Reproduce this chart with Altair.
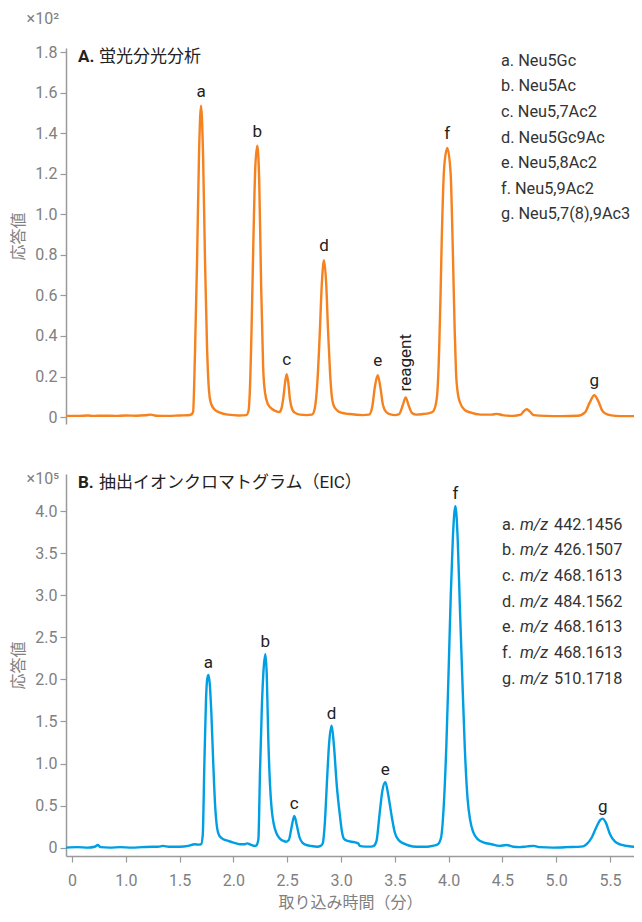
import altair as alt
import pandas as pd

# ---------------- data ----------------
# Panel A: fluorescence trace (response x10^2)
time_a = [0.444, 0.55, 0.65, 0.70, 0.80, 0.90, 1.00, 1.10, 1.18, 1.23, 1.28, 1.40, 1.50, 1.58,
          1.606, 1.625, 1.643, 1.662, 1.680, 1.699, 1.718, 1.736, 1.755, 1.773, 1.790, 1.82, 1.875, 1.95, 2.05, 2.12,
          2.14, 2.152, 2.168, 2.186, 2.204, 2.222, 2.240, 2.258, 2.276, 2.294, 2.32, 2.36, 2.40, 2.425,
          2.445, 2.465, 2.48, 2.495, 2.51, 2.525, 2.545, 2.57, 2.62, 2.68, 2.73,
          2.755, 2.78, 2.80, 2.822, 2.842, 2.862, 2.88, 2.898, 2.915, 2.93, 2.96, 3.00, 3.08, 3.20,
          3.26, 3.29, 3.315, 3.341, 3.365, 3.39, 3.42, 3.46, 3.50,
          3.54, 3.575, 3.601, 3.627, 3.66, 3.70, 3.76, 3.82,
          3.85, 3.875, 3.895, 3.912, 3.925, 3.936, 3.96, 3.988, 4.019, 4.032, 4.044, 4.057, 4.069, 4.085, 4.106,
          4.15, 4.20, 4.30, 4.40, 4.447, 4.50, 4.60, 4.67, 4.70, 4.725, 4.75, 4.79, 4.90, 5.05, 5.20,
          5.27, 5.31, 5.354, 5.39, 5.43, 5.48, 5.55, 5.65, 5.797]
resp_a = [0.006, 0.006, 0.008, 0.006, 0.007, 0.006, 0.008, 0.007, 0.009, 0.012, 0.007, 0.006, 0.008, 0.009,
          0.012, 0.025, 0.32, 0.77, 1.29, 1.535, 1.29, 0.77, 0.34, 0.13, 0.07, 0.04, 0.022, 0.012, 0.008, 0.01,
          0.03, 0.12, 0.42, 0.88, 1.24, 1.338, 1.16, 0.64, 0.25, 0.12, 0.065, 0.04, 0.028, 0.025,
          0.04, 0.10, 0.17, 0.211, 0.17, 0.09, 0.04, 0.022, 0.012, 0.01, 0.012,
          0.04, 0.17, 0.38, 0.66, 0.774, 0.66, 0.42, 0.22, 0.10, 0.06, 0.035, 0.022, 0.015, 0.01,
          0.012, 0.05, 0.15, 0.207, 0.15, 0.06, 0.025, 0.013, 0.01,
          0.015, 0.06, 0.097, 0.06, 0.02, 0.012, 0.015, 0.02,
          0.025, 0.05, 0.12, 0.33, 0.6, 0.87, 1.24, 1.327, 1.20, 0.98, 0.71, 0.42, 0.22, 0.12, 0.072,
          0.035, 0.023, 0.012, 0.012, 0.016, 0.01, 0.006, 0.012, 0.03, 0.039, 0.03, 0.01, 0.006, 0.005, 0.007,
          0.025, 0.07, 0.108, 0.08, 0.03, 0.012, 0.006, 0.005, 0.005]

# Panel B: extracted ion chromatogram (response x10^5)
time_b = [0.444, 0.55, 0.65, 0.71, 0.739, 0.765, 0.85, 0.95, 1.05, 1.15, 1.25, 1.30, 1.346, 1.40, 1.50, 1.58, 1.64, 1.68,
          1.70, 1.715, 1.73, 1.745, 1.756, 1.767, 1.78, 1.795, 1.813, 1.83, 1.85, 1.87, 1.906, 1.95, 2.00, 2.06, 2.10, 2.13, 2.16, 2.20,
          2.216, 2.232, 2.247, 2.265, 2.282, 2.297, 2.31, 2.324, 2.34, 2.356, 2.375, 2.40, 2.43, 2.464, 2.49,
          2.515, 2.54, 2.566, 2.59, 2.615, 2.64, 2.67, 2.72, 2.78,
          2.81, 2.83, 2.85, 2.87, 2.89, 2.913, 2.935, 2.96, 2.99, 3.01, 3.03, 3.06, 3.10, 3.16, 3.175, 3.22, 3.28,
          3.305, 3.33, 3.36, 3.385, 3.412, 3.44, 3.47, 3.50, 3.535, 3.58, 3.63, 3.70, 3.80, 3.85,
          3.90, 3.93, 3.955, 3.98, 4.00, 4.02, 4.04, 4.063, 4.085, 4.105, 4.125, 4.15, 4.175, 4.20, 4.23, 4.27, 4.33, 4.40, 4.47,
          4.54, 4.60, 4.66, 4.73, 4.79, 4.85, 4.97, 5.10, 5.25,
          5.283, 5.33, 5.376, 5.41, 5.432, 5.46, 5.50, 5.547, 5.60, 5.655, 5.72, 5.797]
resp_b = [0.0, 0.005, 0.0, 0.01, 0.03, 0.005, 0.0, 0.005, 0.0, 0.005, 0.01, 0.01, 0.02, 0.01, 0.01, 0.02, 0.04, 0.035,
          0.04, 0.15, 1.0, 1.75, 2.0, 2.054, 1.95, 1.6, 0.99, 0.5, 0.22, 0.14, 0.1, 0.08, 0.06, 0.04, 0.04, 0.05, 0.035, 0.02,
          0.03, 0.1, 0.9, 1.7, 2.15, 2.30, 2.05, 1.3, 0.75, 0.45, 0.28, 0.17, 0.11, 0.08, 0.07,
          0.09, 0.24, 0.375, 0.26, 0.12, 0.06, 0.035, 0.02, 0.01,
          0.02, 0.05, 0.3, 0.8, 1.25, 1.45, 1.2, 0.75, 0.38, 0.18, 0.1, 0.08, 0.07, 0.05, 0.02, 0.012, 0.012,
          0.02, 0.08, 0.42, 0.68, 0.778, 0.62, 0.38, 0.18, 0.09, 0.05, 0.025, 0.01, 0.01, 0.02,
          0.04, 0.12, 0.5, 1.25, 2.1, 3.0, 3.7, 4.06, 3.65, 2.85, 2.1, 1.2, 0.6, 0.33, 0.18, 0.1, 0.06, 0.04, 0.02,
          0.03, 0.01, 0.005, 0.015, 0.02, 0.005, 0.0, 0.005, 0.015,
          0.04, 0.12, 0.25, 0.33, 0.344, 0.3, 0.16, 0.07, 0.035, 0.02, 0.01, 0.01]

peak_letters = ["a", "b", "c", "d", "e", "f", "g"]
apex_time_a = [1.699, 2.222, 2.495, 2.842, 3.341, 3.988, 5.354]
apex_resp_a = [1.535, 1.338, 0.211, 0.774, 0.207, 1.327, 0.108]
reagent_label = ["reagent"]
reagent_time = [3.601]
reagent_resp = [0.097]
apex_time_b = [1.767, 2.297, 2.566, 2.913, 3.412, 4.063, 5.432]
apex_resp_b = [2.054, 2.30, 0.375, 1.45, 0.778, 4.06, 0.344]

compounds = ["Neu5Gc", "Neu5Ac", "Neu5,7Ac2", "Neu5Gc9Ac", "Neu5,8Ac2", "Neu5,9Ac2", "Neu5,7(8),9Ac3"]
mz_values = ["442.1456", "426.1507", "468.1613", "484.1562", "468.1613", "468.1613", "510.1718"]

x_ticks = [0.5, 1.0, 1.5, 2.0, 2.5, 3.0, 3.5, 4.0, 4.5, 5.0, 5.5]
x_tick_labels = ["0", "1.0", "1.5", "2.0", "2.5", "3.0", "3.5", "4.0", "4.5", "5.0", "5.5"]
y_ticks_a = [0, 0.2, 0.4, 0.6, 0.8, 1.0, 1.2, 1.4, 1.6, 1.8]
y_ticks_b = [0, 0.5, 1.0, 1.5, 2.0, 2.5, 3.0, 3.5, 4.0]

title_a = ["A.", "蛍光分光分析"]
title_b = ["B.", "抽出イオンクロマトグラム（EIC）"]
y_title = "応答値"
x_title = "取り込み時間（分）"
mult_a = "×10²"
mult_b = "×10⁵"

# ---------------- styling ----------------
FONT = "Roboto, 'Noto Sans CJK JP', sans-serif"
ORANGE = "#f5821f"
BLUE = "#009fe3"
DARK = "#222222"
GRAY = "#808080"
TXT = 17
LIST = 16.3
W = 568
HA = 376
HB = 382
XDOM = [0.444, 5.723]

line_a_df = pd.DataFrame({"t": time_a, "v": resp_a})
line_b_df = pd.DataFrame({"t": time_b, "v": resp_b})
lab_a_df = pd.DataFrame({"t": apex_time_a, "v": apex_resp_a, "label": peak_letters})
lab_b_df = pd.DataFrame({"t": apex_time_b, "v": apex_resp_b, "label": peak_letters})
reag_df = pd.DataFrame({"t": reagent_time, "v": reagent_resp, "label": reagent_label})
list_a_df = pd.DataFrame({"i": list(range(len(compounds))),
                          "txt": [f"{p}. {c}" for p, c in zip(peak_letters, compounds)]})
list_b_df = pd.DataFrame({"i": list(range(len(mz_values))),
                          "pre": [f"{p}." for p in peak_letters],
                          "mz": ["m/z"] * len(mz_values),
                          "num": mz_values})

x_label_expr = ("[" + ",".join(f"'{s}'" for s in x_tick_labels) + "][indexof(["
                + ",".join(str(v) for v in x_ticks) + "], datum.value)]")
y_label_expr = "datum.value == 0 ? '0' : format(datum.value, '.1f')"


def x_enc(show_axis):
    if show_axis:
        ax = alt.Axis(values=x_ticks, labelExpr=x_label_expr, title=x_title,
                      tickSize=6, labelPadding=10, titlePadding=6)
    else:
        ax = None
    return alt.X("t:Q", scale=alt.Scale(domain=XDOM, nice=False, zero=False), axis=ax)


def y_enc(domain, ticks):
    return alt.Y("v:Q", scale=alt.Scale(domain=domain, nice=False, zero=False),
                 axis=alt.Axis(values=ticks, labelExpr=y_label_expr, title=y_title,
                               tickSize=6, labelPadding=3, titlePadding=8))


def panel(line_df, lab_df, color, ydom, yticks, show_x, titles, mult, mult_y, lab_dy, extra):
    xe = x_enc(show_x)
    ye = y_enc(ydom, yticks)
    line = alt.Chart(line_df).mark_line(color=color, strokeWidth=2.4, interpolate="monotone",
                                        clip=True).encode(x=xe, y=ye)
    labels = alt.Chart(lab_df).mark_text(font=FONT, fontSize=TXT, color=DARK, baseline="alphabetic",
                                         dy=lab_dy).encode(x=xe, y=ye, text="label:N")
    t1 = alt.Chart(pd.DataFrame({"s": [titles[0]]})).mark_text(
        font=FONT, fontSize=TXT, fontWeight="bold", color=DARK, align="left", baseline="middle"
    ).encode(x=alt.value(12), y=alt.value(9), text="s:N")
    t2 = alt.Chart(pd.DataFrame({"s": [titles[1]]})).mark_text(
        font=FONT, fontSize=TXT, color=DARK, align="left", baseline="middle"
    ).encode(x=alt.value(33), y=alt.value(9), text="s:N")
    m = alt.Chart(pd.DataFrame({"s": [mult]})).mark_text(
        font=FONT, fontSize=16, color=GRAY, align="right", baseline="middle"
    ).encode(x=alt.value(-7), y=alt.value(mult_y), text="s:N")
    return alt.layer(line, labels, t1, t2, m, *extra).properties(width=W)


# extra layers for panel A
xa = x_enc(False)
ya = y_enc([-0.034, 1.82], y_ticks_a)
reag = alt.Chart(reag_df).mark_text(font=FONT, fontSize=TXT, color=DARK, angle=270, align="left",
                                    baseline="middle", dx=6).encode(x=xa, y=ya, text="label:N")
list_a = alt.Chart(list_a_df).transform_calculate(py="12.7 + datum.i * 25.6").mark_text(
    font=FONT, fontSize=LIST, color="#333333", align="left", baseline="middle"
).encode(x=alt.value(435), y=alt.Y("py:Q", scale=None, axis=None), text="txt:N")

panel_a = panel(line_a_df, lab_a_df, ORANGE, [-0.034, 1.82], y_ticks_a, False, title_a, mult_a, -29, -9,
                [reag, list_a]).properties(height=HA)

list_b_pre = alt.Chart(list_b_df).transform_calculate(py="50.5 + datum.i * 25.7").mark_text(
    font=FONT, fontSize=LIST, color="#333333", align="left", baseline="middle"
).encode(x=alt.value(436), y=alt.Y("py:Q", scale=None, axis=None), text="pre:N")
list_b_mz = alt.Chart(list_b_df).transform_calculate(py="50.5 + datum.i * 25.7").mark_text(
    font=FONT, fontSize=LIST, fontStyle="italic", color="#333333", align="left", baseline="middle"
).encode(x=alt.value(454), y=alt.Y("py:Q", scale=None, axis=None), text="mz:N")
list_b_num = alt.Chart(list_b_df).transform_calculate(py="50.5 + datum.i * 25.7").mark_text(
    font=FONT, fontSize=LIST, color="#333333", align="left", baseline="middle"
).encode(x=alt.value(488), y=alt.Y("py:Q", scale=None, axis=None), text="num:N")

panel_b = panel(line_b_df, lab_b_df, BLUE, [-0.1, 4.443], y_ticks_b, True, title_b, mult_b, 5, -7,
                [list_b_pre, list_b_mz, list_b_num]).properties(height=HB)

chart = alt.vconcat(panel_a, panel_b, spacing=45).properties(
    padding={"left": 2, "top": 3, "right": 0, "bottom": 0}
).configure(font=FONT).configure_view(stroke=None).configure_axis(
    grid=False, domainColor="#9a9a9a", domainWidth=1.5, tickColor="#9a9a9a", tickWidth=1.2,
    labelColor=GRAY, titleColor=GRAY, labelFontSize=16, titleFontSize=16,
    titleFontWeight="normal", labelFont=FONT, titleFont=FONT
)

chart.save("out.html", embed_options={"renderer": "svg", "actions": False})
